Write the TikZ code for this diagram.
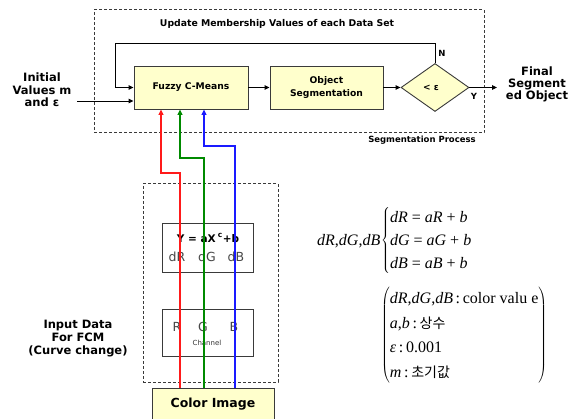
\documentclass[tikz,border=0pt]{standalone}
\usepackage{fontspec}
\usetikzlibrary{arrows.meta,shapes.geometric}
\setmainfont{DejaVu Sans}
\newfontfamily\tnr{Liberation Serif}
\newfontfamily\kr{Noto Sans CJK KR}
\definecolor{boxfill}{HTML}{FFFFCC}
\definecolor{edge}{HTML}{3A3A3A}
\definecolor{chred}{HTML}{FF1A1A}
\definecolor{chgreen}{HTML}{008A00}
\definecolor{chblue}{HTML}{1A1AFF}
\begin{document}
\begin{tikzpicture}[x=1pt,y=-1pt,
  procbox/.style={draw=edge, fill=boxfill, line width=0.9pt, inner sep=0,
    font=\fontsize{9.2}{13}\selectfont\bfseries, align=center},
  plainbox/.style={draw=edge, fill=white, line width=0.9pt, inner sep=0},
  dashbox/.style={draw=edge, line width=1pt, dash pattern=on 3pt off 2pt, inner sep=0},
  decision/.style={shape=diamond, draw=edge, fill=boxfill, line width=0.9pt, inner sep=0,
    aspect=1.42, minimum width=68, minimum height=48, font=\fontsize{9}{10}\selectfont\bfseries},
  flow/.style={draw=black, line width=0.9pt, -{Triangle[length=5pt,width=4.5pt]}},
  chan/.style={line width=1.3pt, -{Triangle[length=5.5pt,width=5pt]}},
  sidelabel/.style={font=\fontsize{11.5}{12.5}\selectfont\bfseries, align=center, inner sep=0},
  smalllabel/.style={font=\fontsize{8.5}{10}\selectfont\bfseries, inner sep=0},
  graytxt/.style={font=\fontsize{12.5}{14}\selectfont, text=black!72, inner sep=0},
  mathtxt/.style={font=\tnr\fontsize{16}{23}\selectfont, inner sep=0}
]
\useasboundingbox (0,0) rectangle (578,419);

% dashed frames
\node[dashbox, minimum width=390, minimum height=123] (segproc) at (289,71.5) {};
\node[dashbox, minimum width=135, minimum height=198] (inputbox) at (210.5,283) {};

% segmentation loop
\node[smalllabel, font=\fontsize{9.3}{11}\selectfont\bfseries] (title) at (277,24) {Update Membership Values of each Data Set};
\node[procbox, minimum width=114, minimum height=43] (fcm) at (191,87.5) {Fuzzy C-Means};
\node[procbox, minimum width=113, minimum height=43] (objseg) at (326.5,87.5) {Object\\Segmentation};
\node[decision] (test) at (435,87.5) {\hspace*{-8pt}< ε};
\node[smalllabel] (nlab) at (442,53) {N};
\node[smalllabel] (ylab) at (474,96) {Y};
\node[smalllabel] (proc) at (422,140) {Segmentation Process};

\coordinate (init) at (77,101);
\coordinate (out) at (497,87.5);
\draw[flow] (test.north) |- (115,43) |- (fcm.west);
\draw[flow] (init) -- (init -| fcm.west);
\draw[flow] (fcm) -- (objseg);
\draw[flow] (objseg) -- (test);
\draw[flow] (test.east) -- (out);

\node[sidelabel] (initial) at (42,90) {Initial\\Values m\\and ε};
\node[sidelabel, font=\fontsize{11.5}{12}\selectfont\bfseries] (final) at (537,84.5) {Final\\Segment\\ed Object};

% curve change input stage
\node[plainbox, minimum width=91, minimum height=49] (curve) at (207.5,247.5) {};
\node[plainbox, minimum width=91, minimum height=47] (chbox) at (207.5,332.5) {};
\node[inner sep=0, font=\fontsize{10.5}{12}\selectfont\bfseries] (eq) at (208,238)
  {Y = aX\hspace{2pt}\raisebox{5pt}{\fontsize{7.5}{8}\selectfont c}\hspace{0.5pt}+b};
\node[graytxt] (dr) at (177,257) {dR};
\node[graytxt] (dg) at (207,257) {dG};
\node[graytxt] (db) at (236,257) {dB};
\node[graytxt] (rch) at (177,327) {R};
\node[graytxt] (gch) at (203,327) {G};
\node[graytxt] (bch) at (234,327) {B};
\node[inner sep=0, font=\fontsize{7}{8}\selectfont, text=black!80] (chl) at (207,343) {Channel};

\node[sidelabel, font=\fontsize{11.5}{13}\selectfont\bfseries] (inlab) at (78,339) {Input Data\\For FCM\\(Curve change)};

% source image (runs off the lower edge)
\node[draw=edge, fill=boxfill, line width=0.9pt, inner sep=0, minimum width=122, minimum height=40] (img) at (213,408) {};
\node[inner sep=0, font=\fontsize{12.5}{14}\selectfont\bfseries] (imgtxt) at (213,404) {Color Image};

% colour channels into FCM
\draw[chan, chred]   (img.north -| 180,0) |- (161,173) -- (fcm.south -| 161,0);
\draw[chan, chgreen] (img.north -| 204,0) |- (180,158) -- (fcm.south -| 180,0);
\draw[chan, chblue]  (img.north -| 235,0) |- (204,146) -- (fcm.south -| 204,0);

% equations
\node[mathtxt, anchor=east] (dvars) at (380.5,241) {\textit{dR},\textit{dG},\textit{dB}};
\node[mathtxt, anchor=west] (eqs) at (381,241)
  {$\left\{\begin{tabular}{@{}l@{}}
    \textit{dR} = \textit{aR} + \textit{b}\\
    \textit{dG} = \textit{aG} + \textit{b}\\
    \textit{dB} = \textit{aB} + \textit{b}
  \end{tabular}\right.$};
\node[mathtxt, font=\tnr\fontsize{16}{24.5}\selectfont, anchor=west] (notes) at (381,335.5)
  {$\left(\begin{tabular}{@{}l@{}}
    \textit{dR},\textit{dG},\textit{dB}\,:\,color valu e\\
    \textit{a},\textit{b}\,:\,{\kr\fontsize{14}{16}\selectfont 상수}\\
    \textit{ε}\,:\,0.001\\
    \textit{m}\,:\,{\kr\fontsize{14}{16}\selectfont 초기값}
  \end{tabular}\right)$};
\end{tikzpicture}
\end{document}
